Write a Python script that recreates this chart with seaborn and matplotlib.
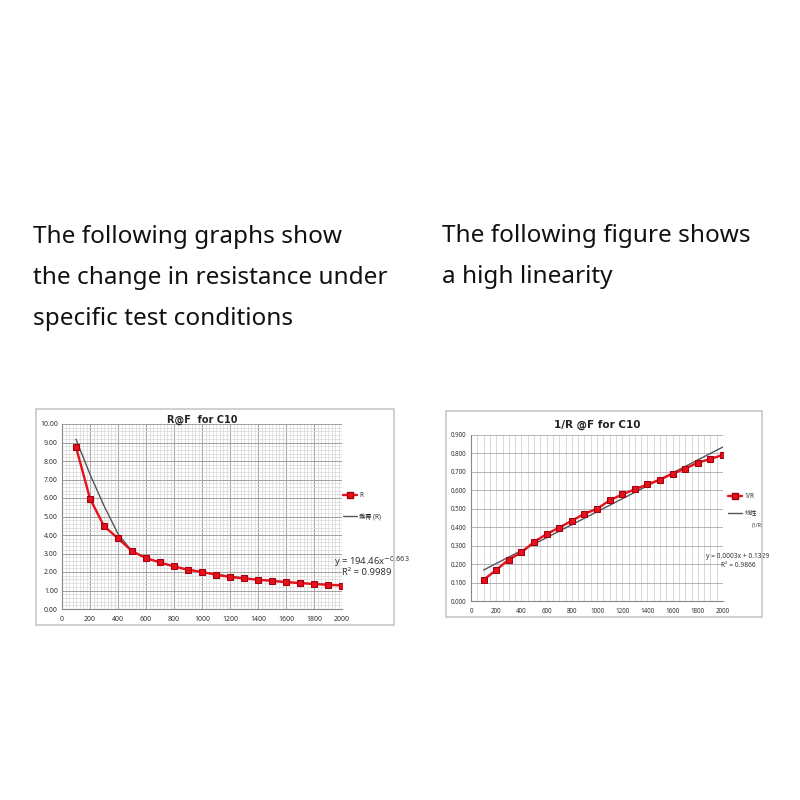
import numpy as np
import matplotlib
matplotlib.use("Agg")
import matplotlib.pyplot as plt
import seaborn as sns
from matplotlib.patches import Rectangle
from matplotlib.lines import Line2D
from matplotlib.ticker import MultipleLocator

# force values (x axis) shared by both charts
force = [100, 200, 300, 400, 500, 600, 700, 800, 900, 1000,
         1100, 1200, 1300, 1400, 1500, 1600, 1700, 1800, 1900, 2000]

# resistance R
resist = [8.75, 5.97, 4.48, 3.82, 3.13, 2.75, 2.52, 2.30, 2.12, 2.00,
          1.85, 1.73, 1.65, 1.58, 1.52, 1.45, 1.40, 1.35, 1.31, 1.27]
# power trendline as drawn in the left chart
power_trend = [9.18, 7.28, 5.58, 4.06, 3.12, 2.76, 2.50, 2.30, 2.14, 2.00,
               1.88, 1.77, 1.68, 1.60, 1.53, 1.47, 1.41, 1.36, 1.31, 1.27]

# conductance 1/R
conduct = [0.115, 0.168, 0.225, 0.263, 0.320, 0.363, 0.398, 0.435, 0.473, 0.500,
           0.545, 0.578, 0.605, 0.632, 0.658, 0.690, 0.718, 0.750, 0.770, 0.792]
# linear trendline end points
lin_x = [100, 2000]
lin_y = [0.168, 0.835]

left_text = ["The following graphs show",
             "the change in resistance under",
             "specific test conditions"]
right_text = ["The following figure shows",
              "a high linearity"]

sns.set_style("white")
plt.rcParams['font.family'] = ['Noto Sans', 'Noto Sans CJK SC', 'DejaVu Sans']

fig = plt.figure(figsize=(8, 8), dpi=100)
fig.patch.set_facecolor('white')

W, H = 800.0, 800.0


def fx(px):
    return px / W


def fy(py):
    return 1 - py / H


# intro text
for i, line in enumerate(left_text):
    fig.text(fx(33), fy(243 + 41 * i), line, fontsize=17.5, color='#111111', va='baseline')
for i, line in enumerate(right_text):
    fig.text(fx(442), fy(242 + 41 * i), line, fontsize=17.5, color='#111111', va='baseline')

# chart frames
fig.patches.append(Rectangle((fx(36), fy(625)), (394 - 36) / W, (625 - 409) / H,
                             transform=fig.transFigure, fill=False, edgecolor='#c8c8c8', lw=1.2))
fig.patches.append(Rectangle((fx(446), fy(617)), (762 - 446) / W, (617 - 411) / H,
                             transform=fig.transFigure, fill=False, edgecolor='#c8c8c8', lw=1.2))

red = '#e8101a'
dark_red = '#a00010'
title_font = ['DejaVu Sans']

# ---- left chart: R vs F ----
ax1 = fig.add_axes([fx(62), fy(609), (342 - 62) / W, (609 - 424) / H])
ax1.set_xlim(0, 2000)
ax1.set_ylim(0, 10)
ax1.xaxis.set_major_locator(MultipleLocator(200))
ax1.xaxis.set_minor_locator(MultipleLocator(25))
ax1.yaxis.set_major_locator(MultipleLocator(1))
ax1.yaxis.set_minor_locator(MultipleLocator(0.2))
ax1.grid(which='major', color='#a0a0a0', lw=0.7)
ax1.grid(which='minor', color='#d8d8d8', lw=0.5)
ax1.set_axisbelow(True)
sns.lineplot(x=force, y=power_trend, ax=ax1, color='#555555', lw=1.0)
sns.lineplot(x=force, y=resist, ax=ax1, color=red, lw=1.7, marker='s',
             markersize=4.5, markeredgecolor=dark_red, markerfacecolor=red)
ax1.set_yticks(np.arange(0, 11, 1))
ax1.set_yticklabels([f"{v:.2f}" for v in np.arange(0, 11, 1)])
ax1.tick_params(axis='both', labelsize=5, colors='#333333', length=0, pad=3)
ax1.tick_params(axis='x', pad=5)
for s in ['top', 'right']:
    ax1.spines[s].set_visible(False)
for s in ['left', 'bottom']:
    ax1.spines[s].set_color('#888888')
    ax1.spines[s].set_linewidth(0.8)
ax1.set_title("R@F  for C10", fontsize=7, fontweight='bold', color='#222222',
              pad=1, family=title_font)

h1 = [Line2D([0], [0], color=red, lw=1.7, marker='s', markersize=3.8,
             markeredgecolor=dark_red, markerfacecolor=red),
      Line2D([0], [0], color='#555555', lw=1)]
ax1.legend(h1, ["R", "乘幂 (R)"], loc='center left', bbox_to_anchor=(0.995, 0.555),
           frameon=False, fontsize=4.5, handlelength=2.2, labelspacing=2.2,
           handletextpad=0.4, borderaxespad=0)
ax1.text(0.97, 0.255, "y = 194.46x$^{-0.663}$", transform=ax1.transAxes,
         fontsize=6.8, color='#333333', ha='left', va='center')
ax1.text(1.0, 0.195, "R² = 0.9989", transform=ax1.transAxes,
         fontsize=6.8, color='#333333', ha='left', va='center')

# ---- right chart: 1/R vs F ----
ax2 = fig.add_axes([fx(471), fy(601), (723 - 471) / W, (601 - 435) / H])
ax2.set_xlim(0, 2000)
ax2.set_ylim(0, 0.9)
ax2.xaxis.set_major_locator(MultipleLocator(200))
ax2.xaxis.set_minor_locator(MultipleLocator(50))
ax2.yaxis.set_major_locator(MultipleLocator(0.1))
ax2.grid(which='both', axis='x', color='#d2d2d2', lw=0.6)
ax2.grid(which='major', axis='y', color='#a8a8a8', lw=0.6)
ax2.set_axisbelow(True)
sns.lineplot(x=lin_x, y=lin_y, ax=ax2, color='#555555', lw=1.0)
sns.lineplot(x=force, y=conduct, ax=ax2, color=red, lw=1.7, marker='s',
             markersize=4.5, markeredgecolor=dark_red, markerfacecolor=red)
ax2.set_yticks(np.arange(0, 0.91, 0.1))
ax2.set_yticklabels([f"{v:.3f}" for v in np.arange(0, 0.91, 0.1)])
ax2.tick_params(axis='both', labelsize=4.5, colors='#333333', length=0, pad=3)
ax2.tick_params(axis='x', pad=5)
for s in ['top', 'right']:
    ax2.spines[s].set_visible(False)
for s in ['left', 'bottom']:
    ax2.spines[s].set_color('#888888')
    ax2.spines[s].set_linewidth(0.8)
ax2.set_title("1/R @F for C10", fontsize=7.5, fontweight='bold', color='#222222',
              pad=5, family=title_font)

h2 = [Line2D([0], [0], color=red, lw=1.7, marker='s', markersize=3.8,
             markeredgecolor=dark_red, markerfacecolor=red),
      Line2D([0], [0], color='#555555', lw=1)]
ax2.legend(h2, ["1/R", "线性"], loc='center left', bbox_to_anchor=(1.01, 0.58),
           frameon=False, fontsize=4.5, handlelength=2.2, labelspacing=1.6,
           handletextpad=0.4, borderaxespad=0)
ax2.text(1.115, 0.455, "(1/R)", transform=ax2.transAxes,
         fontsize=3.8, color='#333333', ha='left', va='center')
ax2.text(1.06, 0.27, "y = 0.0003x + 0.1329", transform=ax2.transAxes,
         fontsize=4.8, color='#333333', ha='center', va='center')
ax2.text(1.06, 0.215, "R² = 0.9866", transform=ax2.transAxes,
         fontsize=4.8, color='#333333', ha='center', va='center')

fig.savefig("out.png", dpi=100, facecolor='white')
